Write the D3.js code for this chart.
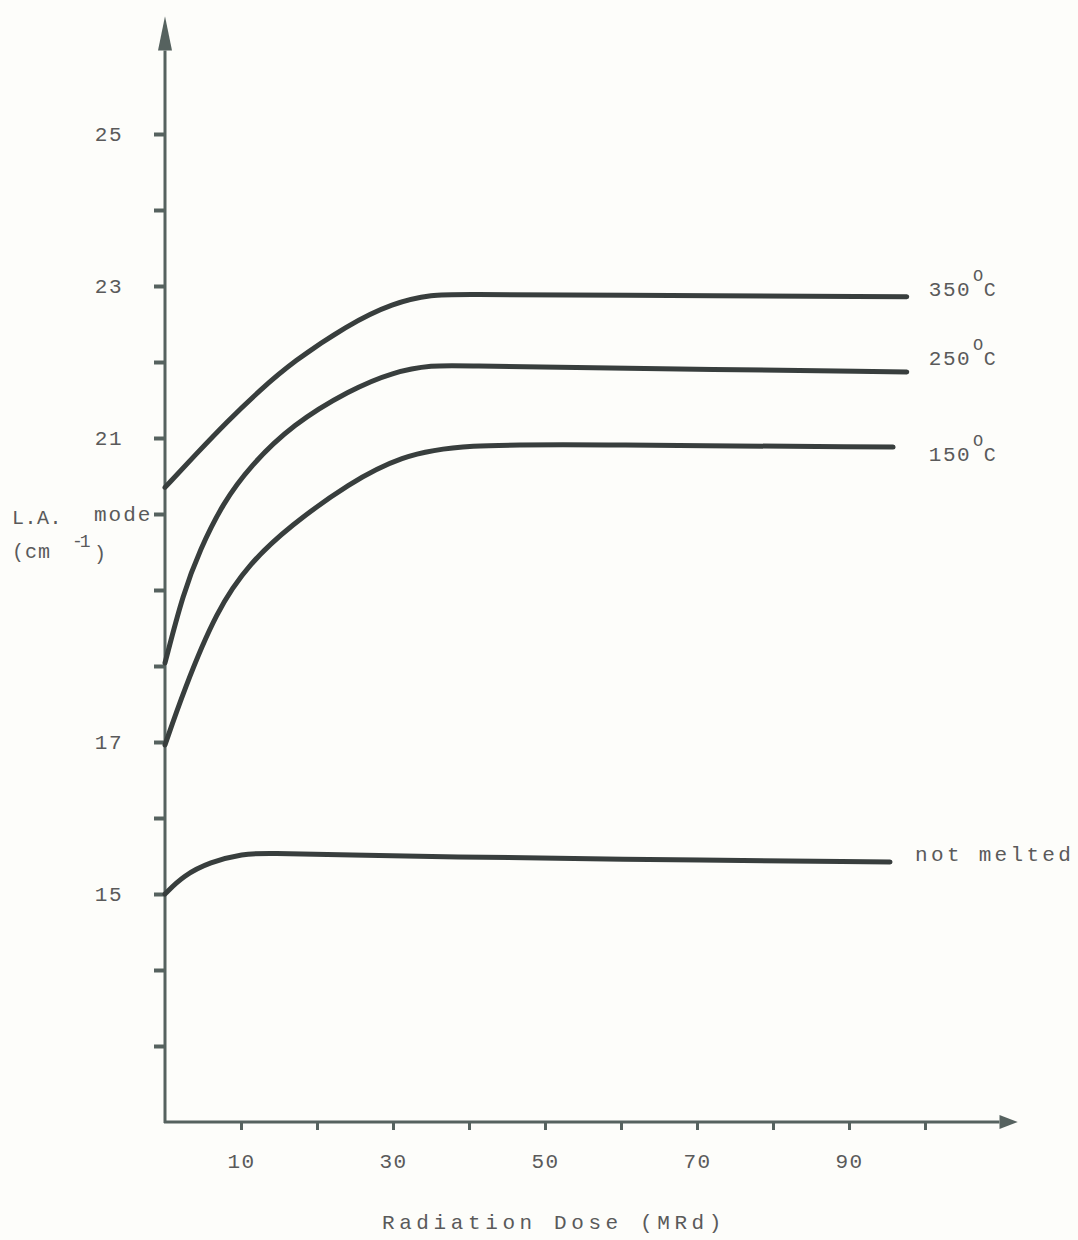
<!DOCTYPE html>
<html>
<head>
<meta charset="utf-8">
<script src="https://cdn.jsdelivr.net/npm/d3@7"></script>
<style>
  html, body { margin: 0; padding: 0; background: #fdfdfa; }
  svg { display: block; }
  text { font-family: "Liberation Mono", "DejaVu Sans Mono", monospace; fill: #5a5a5a; }
</style>
</head>
<body>
<svg id="chart" width="1078" height="1240"></svg>
<script>
// ---- data ----
const xTickValues = [10, 20, 30, 40, 50, 60, 70, 80, 90, 100];
const xTickLabels = [10, 30, 50, 70, 90];
const yTickValues = [13, 14, 15, 16, 17, 18, 19, 20, 21, 22, 23, 24, 25];
const yTickLabels = [15, 17, 21, 23, 25];

const dose350 = [0, 4.0, 8.2, 12.5, 16.8, 23.9, 30.0, 35.3, 38.8, 57.2, 97.6];
const la350   = [20.35, 20.78, 21.22, 21.63, 22.0, 22.48, 22.78, 22.89, 22.89, 22.88, 22.86];

const dose250 = [0, 2.4, 4.6, 7.6, 11.2, 16.8, 24.3, 30.0, 35.3, 38.8, 57.2, 97.6];
const la250   = [18.04, 18.96, 19.53, 20.14, 20.63, 21.18, 21.63, 21.87, 21.96, 21.95, 21.92, 21.87];

const dose150 = [0, 2.4, 6.8, 11.2, 16.4, 24.3, 31.0, 38.8, 57.2, 95.8];
const la150   = [16.96, 17.66, 18.74, 19.36, 19.84, 20.41, 20.76, 20.92, 20.91, 20.88];

const doseNM = [0, 2.4, 5.9, 10.3, 13.4, 24.3, 37.5, 57.2, 95.4];
const laNM   = [15.0, 15.24, 15.42, 15.53, 15.54, 15.51, 15.49, 15.46, 15.42];

const seriesNames = ["350", "250", "150", "not melted"];

// ---- layout ----
const svg = d3.select("#chart");
const x = d3.scaleLinear().domain([0, 100]).range([165, 925]);
const y = d3.scaleLinear().domain([12, 25]).range([1122, 134]);

const axisColor = "#56625f";
const curveColor = "#383e3d";
const textFont = '"Liberation Mono", "DejaVu Sans Mono", monospace';

// y axis
const yAxis = d3.axisLeft(y)
  .tickValues(yTickValues)
  .tickSize(11)
  .tickPadding(31)
  .tickFormat(d => yTickLabels.includes(d) ? d : "");
const gy = svg.append("g").attr("transform", `translate(${x(0)},0)`).call(yAxis);
gy.select(".domain").remove();
gy.selectAll(".tick line").attr("stroke", axisColor).attr("stroke-width", 4);
gy.selectAll(".tick text")
  .attr("font-size", 21).attr("letter-spacing", 1.5)
  .style("font-family", textFont).attr("fill", "#5a5a5a");

// x axis
const xAxis = d3.axisBottom(x)
  .tickValues(xTickValues)
  .tickSize(8)
  .tickPadding(23)
  .tickFormat(d => xTickLabels.includes(d) ? d : "");
const gx = svg.append("g").attr("transform", `translate(0,${y(12)})`).call(xAxis);
gx.select(".domain").remove();
gx.selectAll(".tick line").attr("stroke", axisColor).attr("stroke-width", 3);
gx.selectAll(".tick text")
  .attr("font-size", 21).attr("letter-spacing", 1.5)
  .style("font-family", textFont).attr("fill", "#5a5a5a");

// axis lines with arrow heads
const yTop = 26.55, yArrowBase = 26.1;
const xEnd = 112.2, xArrowBase = 109.8;
svg.append("line")
  .attr("x1", x(0)).attr("x2", x(0)).attr("y1", y(12) + 1).attr("y2", y(yArrowBase))
  .attr("stroke", axisColor).attr("stroke-width", 3);
svg.append("path")
  .attr("d", `M${x(0)},${y(yTop)} L${x(0) - 7},${y(yArrowBase)} L${x(0) + 7},${y(yArrowBase)} Z`)
  .attr("fill", axisColor);
svg.append("line")
  .attr("x1", x(0) - 1).attr("x2", x(xArrowBase)).attr("y1", y(12)).attr("y2", y(12))
  .attr("stroke", axisColor).attr("stroke-width", 3);
svg.append("path")
  .attr("d", `M${x(xEnd)},${y(12)} L${x(xArrowBase)},${y(12) - 7} L${x(xArrowBase)},${y(12) + 7} Z`)
  .attr("fill", axisColor);

// curves
const line = d3.line().x(d => x(d[0])).y(d => y(d[1])).curve(d3.curveBasis);
const allSeries = [
  [dose350, la350], [dose250, la250], [dose150, la150], [doseNM, laNM]
];
allSeries.forEach(([ds, ls]) => {
  svg.append("path")
    .attr("d", line(ds.map((d, i) => [d, ls[i]])))
    .attr("fill", "none").attr("stroke", curveColor)
    .attr("stroke-width", 5).attr("stroke-linecap", "round").attr("stroke-linejoin", "round");
});

// series labels
function tempLabel(t, xv, yv) {
  const tx = svg.append("text").attr("x", x(xv)).attr("y", y(yv))
    .attr("font-size", 21).attr("letter-spacing", 1.5);
  tx.append("tspan").text(t);
  tx.append("tspan").attr("dy", -15).attr("font-size", 17).attr("dx", 2).text("O");
  tx.append("tspan").attr("dy", 15).attr("font-size", 20).attr("dx", -1).text("C");
}
tempLabel(seriesNames[0], 100.5, 22.87);
tempLabel(seriesNames[1], 100.5, 21.96);
tempLabel(seriesNames[2], 100.5, 20.7);
svg.append("text").attr("x", x(98.7)).attr("y", y(15.44))
  .attr("font-size", 21).attr("letter-spacing", 3.3).text(seriesNames[3]);

// y axis title
const ty = svg.append("g").attr("font-size", 20);
ty.append("text").attr("x", 12).attr("y", 524).attr("letter-spacing", 0.5).text("L.A.");
ty.append("text").attr("x", 94).attr("y", 521).attr("font-size", 21).attr("letter-spacing", 2).text("mode");
ty.append("text").attr("x", 12).attr("y", 558).attr("letter-spacing", 1).text("(cm");
ty.append("text").attr("x", 72).attr("y", 547).attr("font-size", 18).attr("letter-spacing", -3).text("-1");
ty.append("text").attr("x", 94).attr("y", 560).text(")");

// x axis title
svg.append("text").attr("x", 554).attr("y", 1229).attr("text-anchor", "middle")
  .attr("font-size", 21).attr("letter-spacing", 4.6).text("Radiation Dose (MRd)");
</script>
</body>
</html>
